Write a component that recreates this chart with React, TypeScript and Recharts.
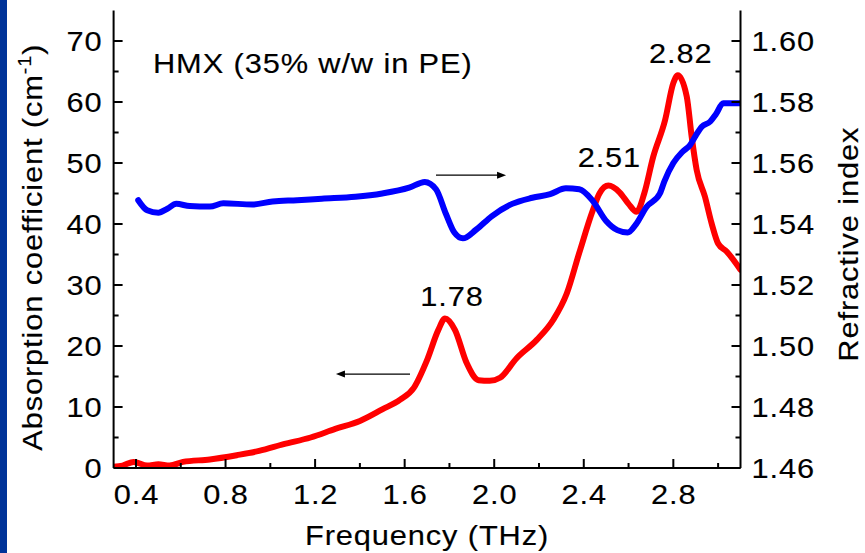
import React from 'react';
import { ComposedChart, Line, XAxis, YAxis, ReferenceDot, ReferenceLine } from 'recharts';

// Absorption coefficient (cm^-1) versus frequency (THz)
const redFreq = [
  0.3, 0.34, 0.39, 0.45, 0.5, 0.55, 0.61, 0.73, 0.85, 0.95, 1.06, 1.18, 1.29, 1.4, 1.5, 1.58,
  1.64, 1.7, 1.75, 1.78, 1.825, 1.877, 1.93, 1.98, 2.026, 2.1, 2.19, 2.264, 2.324, 2.38, 2.44,
  2.47, 2.51, 2.56, 2.6, 2.636, 2.67, 2.71, 2.763, 2.8, 2.82, 2.86, 2.882, 2.904, 2.941, 2.971,
  3.0, 3.038, 3.1,
];
const redAbs = [
  0.2, 0.4, 1.0, 0.4, 0.6, 0.4, 1.0, 1.4, 2.1, 2.8, 3.9, 5.0, 6.4, 7.7, 9.6, 11.2,
  13.1, 17.7, 22.6, 24.5, 22.6, 17.2, 14.4, 14.3, 14.8, 18.0, 21.0, 24.3, 28.6, 35.3, 42.2,
  45.0, 46.3, 45.2, 43.3, 42.0, 45.0, 51.0, 57.0, 63.1, 64.4, 60.9, 54.3, 48.9, 44.5, 40.1,
  36.8, 35.5, 32.5,
];

// Refractive index versus frequency (THz)
const blueFreq = [
  0.41, 0.45, 0.5, 0.54, 0.58, 0.64, 0.73, 0.79, 0.92, 1.01, 1.12, 1.23, 1.38, 1.5, 1.62, 1.69,
  1.74, 1.785, 1.822, 1.86, 1.92, 1.99, 2.08, 2.17, 2.25, 2.32, 2.38, 2.44, 2.5, 2.55, 2.596,
  2.633, 2.68, 2.74, 2.76, 2.8, 2.84, 2.875, 2.9, 2.927, 2.965, 2.99, 3.023, 3.06, 3.1,
];
const blueIndex = [
  1.5478, 1.5445, 1.5437, 1.545, 1.5466, 1.5459, 1.5457, 1.5468, 1.5464, 1.5474, 1.5478, 1.5483,
  1.5489, 1.55, 1.5519, 1.5538, 1.5514, 1.5432, 1.5372, 1.5353, 1.5382, 1.5426, 1.5466, 1.5486,
  1.5498, 1.5517, 1.5514, 1.5476, 1.541, 1.538, 1.5372, 1.5399, 1.5456, 1.55, 1.554, 1.56,
  1.5636, 1.5659, 1.569, 1.5719, 1.5736, 1.576, 1.5796, 1.5796, 1.5796,
];

// Axis ticks
const freqMajor = [0.4, 0.8, 1.2, 1.6, 2.0, 2.4, 2.8];
const freqMinor = [0.6, 1.0, 1.4, 1.8, 2.2, 2.6, 3.0];
const absMajor = [0, 10, 20, 30, 40, 50, 60, 70];
const absMinor = [5, 15, 25, 35, 45, 55, 65];
const idxMajor = [1.46, 1.48, 1.5, 1.52, 1.54, 1.56, 1.58, 1.6];
const idxMinor = [1.47, 1.49, 1.51, 1.53, 1.55, 1.57, 1.59];

// Absorption peaks (THz)
const peakFreqs = [1.78, 2.51, 2.82];

const sampleName = 'HMX (35% w/w in PE)';

const FONT = '"Liberation Sans", Arial, Helvetica, sans-serif';
const TXT = {
  fontFamily: FONT,
  fontSize: 28,
  letterSpacing: 0.8,
  fill: '#000',
  stroke: '#000',
  strokeWidth: 0.15,
};
const WIDEN = 1.1;
const AXIS = { stroke: '#000', strokeWidth: 2 };
const MAJOR_LEN = 9;
const MINOR_LEN = 5;

const sortNum = (a: number[]) => [...a].sort((p, q) => p - q);
const freqTicks = sortNum([...freqMajor, ...freqMinor]);
const absTicks = sortNum([...absMajor, ...absMinor]);
const idxTicks = sortNum([...idxMajor, ...idxMinor]);

const redData = redFreq.map((f, i) => ({ f, v: redAbs[i] }));
const blueData = blueFreq.map((f, i) => ({ f, v: blueIndex[i] }));

// Text drawn with slightly widened glyphs, optionally rotated about its anchor
const WideText = ({
  x,
  y,
  anchor = 'start',
  rotate = 0,
  children,
}: {
  x: number;
  y: number;
  anchor?: 'start' | 'middle' | 'end';
  rotate?: number;
  children: React.ReactNode;
}) => (
  <text
    x={0}
    y={0}
    textAnchor={anchor}
    transform={`translate(${x} ${y}) rotate(${rotate}) scale(${WIDEN} 1)`}
    {...TXT}
  >
    {children}
  </text>
);

const BottomTick = (p: any) => {
  const { x, y, payload } = p;
  const major = freqMajor.includes(payload.value);
  return (
    <g>
      <line x1={x} y1={y} x2={x} y2={y - (major ? MAJOR_LEN : MINOR_LEN)} {...AXIS} />
      {major && (
        <WideText x={x + 0.5} y={y + 36} anchor="middle">
          {payload.value.toFixed(1)}
        </WideText>
      )}
    </g>
  );
};

const TopTick = (p: any) => {
  const { x, y, payload } = p;
  const major = freqMajor.includes(payload.value);
  return <line x1={x} y1={y} x2={x} y2={y + (major ? MAJOR_LEN : MINOR_LEN)} {...AXIS} />;
};

const LeftTick = (p: any) => {
  const { x, y, payload } = p;
  const major = absMajor.includes(payload.value);
  return (
    <g>
      <line x1={x} y1={y} x2={x + (major ? MAJOR_LEN : MINOR_LEN)} y2={y} {...AXIS} />
      {major && (
        <WideText x={x - 11} y={y + 10} anchor="end">
          {String(payload.value)}
        </WideText>
      )}
    </g>
  );
};

const RightTick = (p: any) => {
  const { x, y, payload } = p;
  const major = idxMajor.includes(payload.value);
  return (
    <g>
      <line x1={x} y1={y} x2={x - (major ? MAJOR_LEN : MINOR_LEN)} y2={y} {...AXIS} />
      {major && (
        <WideText x={x + 11} y={y + 10} anchor="start">
          {payload.value.toFixed(2)}
        </WideText>
      )}
    </g>
  );
};

const LeftTitle = (p: any) => {
  const vb = p.viewBox || { x: 0, y: 10.5, width: 114, height: 457.5 };
  return (
    <WideText x={vb.x + 42} y={vb.y + vb.height / 2 + 8} anchor="middle" rotate={-90}>
      Absorption coefficient (cm
      <tspan fontSize={18} dy={-11}>-1</tspan>
      <tspan dy={11}>)</tspan>
    </WideText>
  );
};

const RightTitle = (p: any) => {
  const vb = p.viewBox || { x: 740.5, y: 10.5, width: 124.5, height: 457.5 };
  return (
    <WideText x={vb.x + 117.5} y={vb.y + vb.height / 2 + 5} anchor="middle" rotate={-90}>
      Refractive index
    </WideText>
  );
};

const BottomTitle = (p: any) => {
  const vb = p.viewBox || { x: 114, y: 468, width: 626.5, height: 85 };
  return (
    <WideText x={vb.x + vb.width / 2} y={vb.y + 77} anchor="middle">
      Frequency (THz)
    </WideText>
  );
};

const peakShift = [
  { dx: 7, dy: -13 },
  { dx: 1, dy: -19 },
  { dx: 3, dy: -12 },
];

const PeakLabel = (p: any) => {
  const vb = p.viewBox || { x: 0, y: 0 };
  return (
    <WideText x={vb.x + p.dx} y={vb.y + p.dy} anchor="middle">
      {p.text}
    </WideText>
  );
};

const NameLabel = (p: any) => {
  const vb = p.viewBox || { x: 0, y: 0 };
  return (
    <WideText x={vb.x} y={vb.y} anchor="start">
      {sampleName}
    </WideText>
  );
};

const Arrow = (p: any) => {
  const { x1, y1, x2, y2 } = p;
  const dir = x2 > x1 ? 1 : -1;
  const head = 9;
  const half = 3.5;
  return (
    <g>
      <line x1={x1} y1={y1} x2={x2 - dir * head * 0.6} y2={y2} stroke="#000" strokeWidth={1.3} />
      <polygon
        points={`${x2},${y2} ${x2 - dir * head},${y2 - half} ${x2 - dir * head},${y2 + half}`}
        fill="#000"
      />
    </g>
  );
};

export default function App() {
  return (
    <div
      style={{
        position: 'absolute',
        left: 0,
        top: 0,
        width: 865,
        height: 553,
        background: '#fff',
        overflow: 'hidden',
      }}
    >
      <ComposedChart
        width={865}
        height={553}
        margin={{ top: 10.5, right: 0, bottom: 0, left: 0 }}
        style={{ fontFamily: FONT }}
      >
        <XAxis
          xAxisId="bottom"
          type="number"
          dataKey="f"
          domain={[0.3, 3.1]}
          allowDataOverflow
          ticks={freqTicks}
          interval={0}
          tickSize={0}
          tickMargin={0}
          tickLine={false}
          axisLine={AXIS}
          tick={BottomTick}
          height={85}
          label={BottomTitle}
        />
        <XAxis
          xAxisId="top"
          orientation="top"
          type="number"
          dataKey="f"
          domain={[0.3, 3.1]}
          allowDataOverflow
          ticks={freqTicks}
          interval={0}
          tickSize={0}
          tickMargin={0}
          tickLine={false}
          axisLine={AXIS}
          tick={TopTick}
          height={0}
        />
        <YAxis
          yAxisId="left"
          type="number"
          domain={[0, 75]}
          allowDataOverflow
          ticks={absTicks}
          interval={0}
          tickSize={0}
          tickMargin={0}
          tickLine={false}
          axisLine={AXIS}
          tick={LeftTick}
          width={113.6}
          label={LeftTitle}
        />
        <YAxis
          yAxisId="right"
          orientation="right"
          type="number"
          domain={[1.46, 1.61]}
          allowDataOverflow
          ticks={idxTicks}
          interval={0}
          tickSize={0}
          tickMargin={0}
          tickLine={false}
          axisLine={AXIS}
          tick={RightTick}
          width={124.5}
          label={RightTitle}
        />

        <Line
          data={redData}
          dataKey="v"
          xAxisId="bottom"
          yAxisId="left"
          type="monotone"
          stroke="#ff0000"
          strokeWidth={6}
          strokeLinecap="round"
          strokeLinejoin="round"
          dot={false}
          activeDot={false}
          isAnimationActive={false}
        />
        <Line
          data={blueData}
          dataKey="v"
          xAxisId="bottom"
          yAxisId="right"
          type="monotone"
          stroke="#0000ff"
          strokeWidth={6}
          strokeLinecap="round"
          strokeLinejoin="round"
          dot={false}
          activeDot={false}
          isAnimationActive={false}
        />

        {peakFreqs.map((pf, i) => (
          <ReferenceDot
            key={pf}
            xAxisId="bottom"
            yAxisId="left"
            x={pf}
            y={redAbs[redFreq.indexOf(pf)]}
            r={0}
            fill="none"
            stroke="none"
            label={(lp: any) => (
              <PeakLabel {...lp} text={pf.toFixed(2)} dx={peakShift[i].dx} dy={peakShift[i].dy} />
            )}
          />
        ))}

        <ReferenceDot
          xAxisId="bottom"
          yAxisId="left"
          x={0.476}
          y={64.7}
          r={0}
          fill="none"
          stroke="none"
          label={(lp: any) => <NameLabel {...lp} />}
        />

        <ReferenceLine
          xAxisId="bottom"
          yAxisId="left"
          segment={[
            { x: 1.74, y: 48 },
            { x: 2.053, y: 48 },
          ]}
          shape={Arrow}
        />
        <ReferenceLine
          xAxisId="bottom"
          yAxisId="left"
          segment={[
            { x: 1.624, y: 15.4 },
            { x: 1.293, y: 15.4 },
          ]}
          shape={Arrow}
        />
      </ComposedChart>
      <div
        style={{
          position: 'absolute',
          left: 0,
          top: 0,
          width: 7,
          height: 553,
          background: '#003399',
        }}
      />
    </div>
  );
}
